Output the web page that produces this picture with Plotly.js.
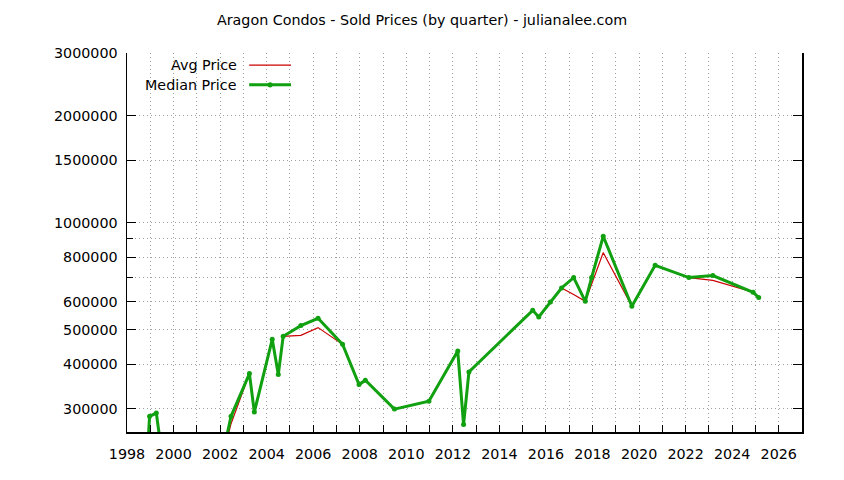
<!DOCTYPE html>
<html>
<head>
<meta charset="utf-8">
<script src="https://cdn.plot.ly/plotly-3.0.1.min.js"></script>
<style>
  html, body { margin: 0; padding: 0; background: #fff; }
  #plot { width: 844px; height: 480px; }
</style>
</head>
<body>
<div id="plot"></div>
<script>
// quarter positions (decimal year)
const quarters = [
  1998.72, 1998.97, 1999.26, 1999.5, 2001.96, 2002.47, 2003.26, 2003.47,
  2004.24, 2004.5, 2004.71, 2005.47, 2006.21, 2007.26, 2007.97, 2008.24,
  2009.49, 2010.97, 2012.21, 2012.46, 2012.69, 2015.43, 2015.69, 2016.19,
  2016.67, 2017.19, 2017.69, 2017.96, 2018.46, 2019.69, 2020.69, 2022.14,
  2023.17, 2024.9, 2025.14
];
const medianPrice = [
  150000, 285400, 291500, 223000, 200000, 285400, 376300, 293400,
  469900, 373900, 479000, 513400, 538300, 454900, 350400, 360300,
  299000, 314500, 435600, 270500, 380200, 566900, 542800, 598300,
  655100, 700700, 600900, 700700, 915500, 581900, 759000, 700700,
  709800, 637100, 615700
];
const avgPrice = [
  150000, 285400, 291500, 223000, 200000, 272000, 376300, 293400,
  469900, 373900, 479000, 482200, 506900, 454900, 350400, 360300,
  299000, 314500, 435600, 270500, 380200, 566900, 542800, 598300,
  655100, 628000, 600900, 671000, 823700, 581900, 759000, 700700,
  688500, 637100, 615700
];
const yTickVals = [300000, 400000, 500000, 600000, 800000, 1000000, 1500000, 2000000, 3000000];
const yMinorVals = [700000, 900000];
const xTickVals = [];
for (let yr = 1998; yr <= 2027; yr++) xTickVals.push(yr);
const xTickText = xTickVals.map((yr) => (yr % 2 === 0 ? String(yr) : ""));

const font = { family: "DejaVu Sans, sans-serif", size: 14.3, color: "#000" };
const gridDash = "1px,3px";
const gridColor = "#a0a0a0";

const traces = [
  {
    x: quarters,
    y: avgPrice,
    type: "scatter",
    mode: "lines",
    name: "Avg Price",
    line: { color: "#cc0000", width: 1.2 },
    showlegend: false,
  },
  {
    x: quarters,
    y: medianPrice,
    type: "scatter",
    mode: "lines+markers",
    name: "Median Price",
    line: { color: "#10a010", width: 3 },
    marker: { color: "#10a010", size: 5 },
    showlegend: false,
  },
];

const layout = {
  width: 844,
  height: 480,
  margin: { l: 127, r: 42, t: 53, b: 48 },
  paper_bgcolor: "#fff",
  plot_bgcolor: "#fff",
  font: font,
  title: {
    text: "Aragon Condos - Sold Prices (by quarter) - julianalee.com",
    font: font,
    xref: "container",
    x: 0.5,
    xanchor: "center",
    yref: "container",
    y: 0.958,
    yanchor: "middle",
  },
  xaxis: {
    range: [1998, 2027],
    tickmode: "array",
    tickvals: xTickVals,
    ticktext: xTickText,
    ticks: "inside",
    ticklen: 7,
    tickwidth: 1,
    tickcolor: "#000",
    showline: true,
    linecolor: "#000",
    linewidth: 1.5,
    showgrid: true,
    gridcolor: gridColor,
    griddash: gridDash,
    gridwidth: 1,
    zeroline: false,
    ticklabelstandoff: 8,
    tickfont: font,
  },
  xaxis2: {
    overlaying: "x",
    side: "top",
    range: [1998, 2027],
    tickmode: "linear",
    tick0: 1998,
    dtick: 2,
    ticks: "inside",
    ticklen: 7,
    tickcolor: "#000",
    showticklabels: false,
    showline: false,
    showgrid: false,
    zeroline: false,
  },
  yaxis: {
    type: "log",
    range: [Math.log10(257800), Math.log10(3000000)],
    tickmode: "array",
    tickvals: yTickVals,
    ticktext: yTickVals.map(String),
    ticks: "inside",
    ticklen: 9,
    tickwidth: 1,
    tickcolor: "#000",
    showline: true,
    linecolor: "#000",
    linewidth: 1.5,
    mirror: "ticks",
    showgrid: true,
    gridcolor: gridColor,
    griddash: gridDash,
    gridwidth: 1,
    zeroline: false,
    ticklabelstandoff: 5,
    tickfont: font,
    minor: {
      tickmode: "array",
      tickvals: yMinorVals,
      ticks: "inside",
      ticklen: 6,
      tickcolor: "#000",
      showgrid: true,
      gridcolor: gridColor,
      griddash: gridDash,
      gridwidth: 1,
    },
  },
  // key drawn gnuplot-style: text on the left, sample on the right
  annotations: [
    { text: "Avg Price", xref: "paper", yref: "paper", x: 0.166, y: 0.968,
      xanchor: "right", yanchor: "middle", showarrow: false, font: font },
    { text: "Median Price", xref: "paper", yref: "paper", x: 0.166, y: 0.916,
      xanchor: "right", yanchor: "middle", showarrow: false, font: font },
  ],
  shapes: [
    { type: "line", xref: "paper", yref: "paper", x0: 0.181, x1: 0.243, y0: 0.968, y1: 0.968,
      line: { color: "#cc0000", width: 1.2 } },
    { type: "line", xref: "paper", yref: "paper", x0: 0.181, x1: 0.243, y0: 0.916, y1: 0.916,
      line: { color: "#10a010", width: 3 } },
    { type: "circle", xref: "paper", yref: "paper", x0: 0.2083, x1: 0.2157, y0: 0.909, y1: 0.923,
      fillcolor: "#10a010", line: { width: 0 } },
  ],
};

Plotly.newPlot("plot", traces, layout, { displayModeBar: false, staticPlot: true });
</script>
</body>
</html>
